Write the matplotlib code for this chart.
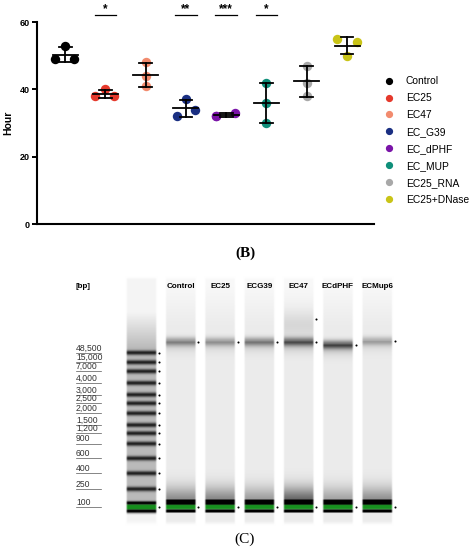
import numpy as np
import matplotlib

matplotlib.use("Agg")
import matplotlib.pyplot as plt
from matplotlib.lines import Line2D

plt.rcParams["font.family"] = ["Liberation Sans", "DejaVu Sans"]

# ---- (B) incubation time per strain ----
groups = ["Control", "EC25", "EC47", "EC_G39", "EC_dPHF", "EC_MUP", "EC25_RNA", "EC25+DNase"]
hours = [
    [53, 49, 49],
    [40, 38, 38],
    [48, 44, 41],
    [37, 34, 32],
    [32, 32, 33],
    [42, 36, 30],
    [47, 42, 38],
    [55, 54, 50],
]
jitter = [
    [0, -0.25, 0.22],
    [0, -0.25, 0.22],
    [0, 0, 0],
    [0, 0.22, -0.23],
    [-0.25, -0.25, 0.23],
    [0, 0, 0],
    [0, 0, 0],
    [-0.25, 0.25, 0],
]
colors = ["#000000", "#E5392C", "#F28B6E", "#1A2F82", "#7A14A8",
          "#0F8F7A", "#A8A8A8", "#C9C417"]
sig_groups = [1, 3, 4, 5]
sig_marks = ["*", "**", "***", "*"]

# ---- (C) gel ----
ladder_bp = ["48,500", "15,000", "7,000", "4,000", "3,000", "2,500", "2,000",
             "1,500", "1,200", "900", "600", "400", "250", "100"]
ladder_pos = [352.7, 362.3, 371.3, 383, 394.7, 403.3, 413.3, 425, 433.3,
              443.7, 458.3, 473.3, 489, 507]
gel_lanes = ["Control", "EC25", "ECG39", "EC47", "ECdPHF", "ECMup6"]
hmw_pos = [341.5, 341.5, 341.5, 341.5, 344.5, 341.0]
hmw_int = [0.33, 0.28, 0.36, 0.48, 0.52, 0.24]
smear_int = [0.40, 0.42, 0.33, 0.55, 0.30, 0.38]
extra_dots = {3: [319]}

W, H = 472, 550
fig = plt.figure(figsize=(W / 100, H / 100), dpi=100)

# ---------------- scatter plot ----------------
ax = fig.add_axes([37 / W, 1 - 224 / H, (374 - 37) / W, (224 - 22) / H])
for i, (vals, offs, c) in enumerate(zip(hours, jitter, colors)):
    vals = np.array(vals, dtype=float)
    ax.scatter(i + np.array(offs), vals, s=46, color=c, zorder=2, linewidths=0)
    m, sd = vals.mean(), vals.std(ddof=1)
    ax.plot([i - 0.31, i + 0.31], [m, m], color="black", lw=1.3, zorder=3)
    ax.plot([i, i], [m - sd, m + sd], color="black", lw=1.3, zorder=3)
    for e in (m - sd, m + sd):
        ax.plot([i - 0.16, i + 0.16], [e, e], color="black", lw=1.3, zorder=3)

for g, mark in zip(sig_groups, sig_marks):
    ax.plot([g - 0.27, g + 0.27], [62, 62], color="black", lw=0.9, clip_on=False)
    ax.text(g, 63.0, mark, ha="center", va="baseline", fontsize=8.5,
            fontweight="bold")

ax.set_xlim(-0.7, 7.67)
ax.set_ylim(0, 60)
ax.set_xticks([])
ax.set_yticks([0, 20, 40, 60])
ax.tick_params(axis="y", length=3.5, width=1.4, labelsize=6.5, pad=1.5)
for lbl in ax.get_yticklabels():
    lbl.set_fontweight("bold")
for s in ("top", "right"):
    ax.spines[s].set_visible(False)
for s in ("left", "bottom"):
    ax.spines[s].set_linewidth(1.5)
ax.set_ylabel("Hour", fontsize=7.5, fontweight="bold", labelpad=5)

handles = [Line2D([], [], marker="o", ls="", color=c, markersize=4.2) for c in colors]
fig.legend(handles, groups, loc="upper left", bbox_to_anchor=(380 / W, 1 - 72 / H),
           frameon=False, fontsize=7.4, handletextpad=1.1, labelspacing=0.68,
           handlelength=1.0, borderaxespad=0)

fig.text(245 / W, 1 - 253 / H, "(B)", ha="center", va="center", fontsize=11,
         family="Liberation Serif", fontweight="bold")
fig.text(245 / W, 1 - 539 / H, "(C)", ha="center", va="center", fontsize=11,
         family="Liberation Serif")

# ---------------- gel image ----------------
gax = fig.add_axes([0, 1 - 532 / H, 1, (532 - 268) / H])
gax.set_xlim(0, W)
gax.set_ylim(532, 268)
gax.axis("off")

gx = np.arange(112, 402, 0.5) + 0.25
gy = np.arange(270, 530, 0.5) + 0.25
rgb = np.ones((len(gy), len(gx), 3))


def gauss(y, p, s):
    return np.exp(-0.5 * ((y - p) / s) ** 2)


def smooth_step(z, w):
    return np.clip(z / w, 0, 1)


vert = smooth_step(gy - 277, 2.5) * smooth_step(525 - gy, 4)
green = np.array([0.05, 0.55, 0.08])


def paint_lane(center, dark, green_amt):
    horiz = smooth_step(15.5 - np.abs(gx - center), 1.5)
    alpha = vert[:, None] * horiz[None, :]
    col = np.clip(1 - dark, 0, 1)[:, None] * np.ones(3)
    col = col * (1 - green_amt[:, None]) + green * green_amt[:, None]
    rgb[:] = rgb * (1 - alpha[..., None]) + col[:, None, :] * alpha[..., None]


lane_step = 39.3
ladder_x = 141.5
lane_x = [ladder_x + lane_step * (k + 1) for k in range(len(gel_lanes))]

# ladder
dark = 0.04 + 0.23 * smooth_step(gy - 312, 36) * smooth_step(515 - gy, 3)
for p in ladder_pos[:-1]:
    dark = dark + 0.62 * gauss(gy, p, 1.6)
dark = dark + 0.9 * gauss(gy, 503, 1.2) + 0.9 * gauss(gy, 511, 1.2)
grn = 0.95 * smooth_step(2.8 - np.abs(gy - 507), 0.8)
paint_lane(ladder_x, dark, grn)

# samples
for k, cx in enumerate(lane_x):
    dark = 0.025 + 0.05 * smooth_step(gy - 285, 40)
    dark = dark + hmw_int[k] * gauss(gy, hmw_pos[k], 3.0)
    tail = np.where(gy > hmw_pos[k], gauss(gy, hmw_pos[k], 7.0), 0)
    dark = dark + 0.35 * hmw_int[k] * tail
    if k == 3:
        dark = dark + 0.08 * gauss(gy, 325, 10)
    ramp = np.where(gy < 503, gauss(gy, 503, 11), 0)
    dark = dark + smear_int[k] * ramp
    dark = dark + 1.0 * smooth_step(3 - np.abs(gy - 502.3), 0.8)
    dark = dark + 1.0 * smooth_step(1.8 - np.abs(gy - 511), 0.6)
    grn = 0.95 * smooth_step(2.6 - np.abs(gy - 507), 0.8)
    paint_lane(cx, dark, grn)

gax.imshow(rgb, extent=[gx[0] - 0.25, gx[-1] + 0.25, gy[-1] + 0.25, gy[0] - 0.25],
           aspect="auto", interpolation="bilinear", zorder=1)

# side markers
gax.scatter([ladder_x + 17.5] * len(ladder_pos), ladder_pos, s=2.2, color="black",
            zorder=3, linewidths=0)
for k, cx in enumerate(lane_x):
    ys = [hmw_pos[k], 507] + extra_dots.get(k, [])
    gax.scatter([cx + 17.5] * len(ys), ys, s=2.2, color="black", zorder=3,
                linewidths=0)

# labels
gax.text(83, 287, "[bp]", ha="center", va="center", fontsize=5.8, fontweight="bold")
for name, cx in zip(gel_lanes, lane_x):
    gax.text(cx, 287, name, ha="center", va="center", fontsize=5.8,
             fontweight="bold")
for bp, p in zip(ladder_bp, ladder_pos):
    gax.text(76, p - 0.3, bp, ha="left", va="bottom", fontsize=6.2, color="#333333")
    gax.plot([76, 100.5], [p, p], color="#555555", lw=0.5)

fig.savefig("out.png", dpi=100)
